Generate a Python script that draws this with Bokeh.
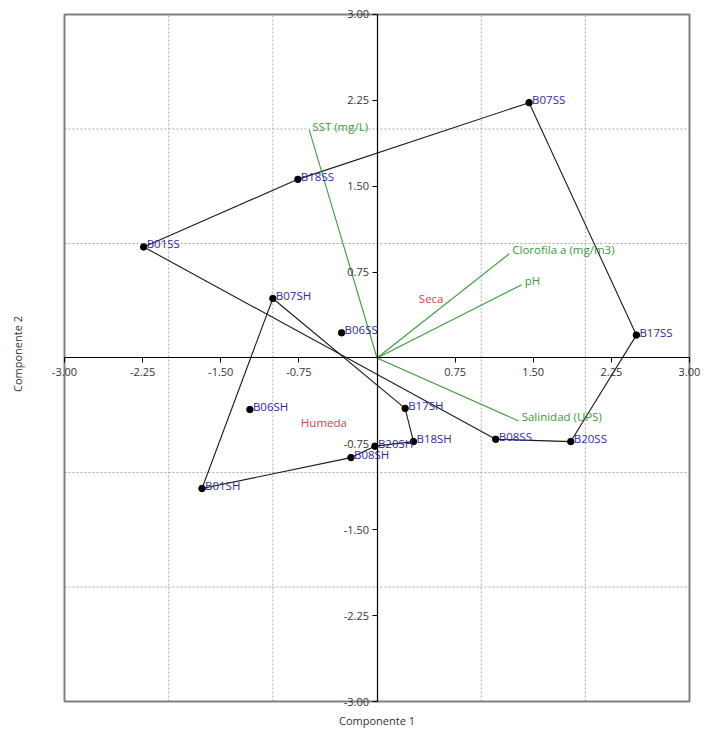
from bokeh.plotting import figure
from bokeh.models import FixedTicker, LinearAxis, PrintfTickFormatter, ColumnDataSource, Range1d
from bokeh.embed import file_html
from bokeh.resources import INLINE
from bokeh.core.properties import value

# ---- data ----
sample_names = ["B01SS", "B18SS", "B07SS", "B17SS", "B20SS", "B08SS", "B06SS",
                "B07SH", "B17SH", "B18SH", "B20SH", "B08SH", "B01SH", "B06SH"]
comp1 = [-2.24, -0.76, 1.46, 2.49, 1.86, 1.14, -0.34,
         -1.00, 0.27, 0.35, -0.02, -0.25, -1.68, -1.22]
comp2 = [0.97, 1.56, 2.23, 0.20, -0.73, -0.71, 0.22,
         0.52, -0.44, -0.73, -0.77, -0.87, -1.14, -0.45]

seca_hull = ["B01SS", "B18SS", "B07SS", "B17SS", "B20SS", "B08SS", "B01SS"]
humeda_hull = ["B07SH", "B17SH", "B18SH", "B20SH", "B08SH", "B01SH", "B07SH"]

var_names = ["SST (mg/L)", "Clorofila a (mg/m3)", "pH", "Salinidad (UPS)"]
var_c1 = [-0.65, 1.27, 1.39, 1.36]
var_c2 = [1.99, 0.91, 0.64, -0.55]

group_names = ["Seca", "Humeda"]
group_c1 = [0.52, -0.51]
group_c2 = [0.52, -0.56]

axis_ticks = [-3.0, -2.25, -1.5, -0.75, 0.75, 1.5, 2.25, 3.0]
grid_ticks = [-2, -1, 1, 2]

FONT = "Open Sans"
BLUE = "#2c2ca0"
GREEN = "#3a9a3a"
RED = "#d8414a"
LO, HI = axis_ticks[0], axis_ticks[-1]

# frame is a bit larger than the [-3, 3] box so edge tick labels are not clipped
p = figure(width=703, height=730,
           x_range=Range1d(-3.1344, 3.1344), y_range=Range1d(-3.0523, 3.1221),
           output_backend="svg", toolbar_location=None,
           min_border_left=50, min_border_right=0, min_border_top=0, min_border_bottom=22)

p.outline_line_color = None
p.background_fill_color = "white"
p.border_fill_color = "white"
p.xgrid.visible = False
p.ygrid.visible = False

# outer axes only carry titles
for ax, lab, so in ((p.xaxis[0], "Componente 1", 5), (p.yaxis[0], "Componente 2", 26)):
    ax.ticker = FixedTicker(ticks=[])
    ax.axis_line_color = None
    ax.major_tick_line_color = None
    ax.minor_tick_line_color = None
    ax.axis_label = lab
    ax.axis_label_standoff = so
    ax.axis_label_text_font = FONT
    ax.axis_label_text_font_size = "11px"
    ax.axis_label_text_font_style = "normal"
    ax.axis_label_text_color = "#333333"

# dashed grid inside the [-3, 3] box
n = len(grid_ticks)
p.segment(x0=grid_ticks, y0=[LO] * n, x1=grid_ticks, y1=[HI] * n,
          line_color="#a8a8a8", line_dash="2 2", line_width=1)
p.segment(x0=[LO] * n, y0=grid_ticks, x1=[HI] * n, y1=grid_ticks,
          line_color="#a8a8a8", line_dash="2 2", line_width=1)

# box outline
p.quad(left=[LO], right=[HI], bottom=[LO], top=[HI], fill_color=None,
       line_color="#808080", line_width=2)

# centered axes
xa = LinearAxis(fixed_location=0, ticker=FixedTicker(ticks=axis_ticks),
                formatter=PrintfTickFormatter(format="%.2f"), bounds=(LO, HI))
ya = LinearAxis(fixed_location=0, ticker=FixedTicker(ticks=axis_ticks),
                formatter=PrintfTickFormatter(format="%.2f"), bounds=(LO, HI))
for ax in (xa, ya):
    ax.axis_line_color = "black"
    ax.axis_line_width = 1.2
    ax.major_tick_line_color = "black"
    ax.major_tick_out = 5
    ax.major_tick_in = 0
    ax.minor_tick_line_color = None
    ax.major_label_text_font = FONT
    ax.major_label_text_font_size = "11px"
    ax.major_label_text_color = "#333333"
xa.major_label_standoff = 5
ya.major_label_standoff = 3
p.add_layout(xa, "below")
p.add_layout(ya, "left")

# hull lines
idx = {nm: i for i, nm in enumerate(sample_names)}
for hull in (seca_hull, humeda_hull):
    p.line([comp1[idx[nm]] for nm in hull], [comp2[idx[nm]] for nm in hull],
           line_color="#1a1a1a", line_width=1.1)

# variable vectors
vsrc = ColumnDataSource(dict(x0=[0] * len(var_names), y0=[0] * len(var_names),
                             x1=var_c1, y1=var_c2, name=var_names))
p.segment("x0", "y0", "x1", "y1", source=vsrc, line_color=GREEN, line_width=1.1)
p.text("x1", "y1", text="name", source=vsrc, text_color=GREEN,
       text_font=value(FONT), text_font_size="11.5px", text_baseline="middle",
       text_align="left", x_offset=3, y_offset=-4)

# sample points
ssrc = ColumnDataSource(dict(x=comp1, y=comp2, name=sample_names))
p.scatter("x", "y", source=ssrc, size=6.5, fill_color="black", line_color="black")
p.text("x", "y", text="name", source=ssrc, text_color=BLUE,
       text_font=value(FONT), text_font_size="11.5px", text_baseline="middle",
       text_align="left", x_offset=3, y_offset=-3)

# group labels
gsrc = ColumnDataSource(dict(x=group_c1, y=group_c2, name=group_names))
p.text("x", "y", text="name", source=gsrc, text_color=RED,
       text_font=value(FONT), text_font_size="11.5px", text_baseline="middle",
       text_align="center")

open("out.html", "w").write(file_html(p, INLINE))
